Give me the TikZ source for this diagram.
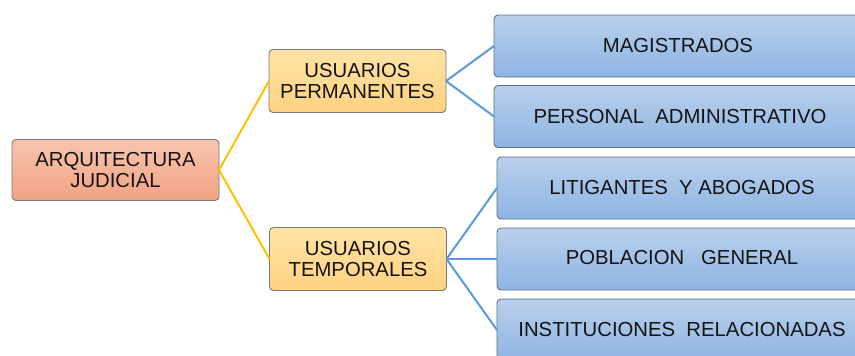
\documentclass[tikz,border=0pt]{standalone}
\usepackage{fontspec}
\setmainfont{Liberation Sans}
\definecolor{rootTop}{HTML}{F8C4AE}
\definecolor{rootBot}{HTML}{F2A283}
\definecolor{yelTop}{HTML}{FFE3A6}
\definecolor{yelBot}{HTML}{FFD27F}
\definecolor{bluTop}{HTML}{B9D0EC}
\definecolor{bluBot}{HTML}{8EB4E3}
\definecolor{lineY}{HTML}{FFC000}
\definecolor{lineB}{HTML}{5B9BD5}
\definecolor{bord}{HTML}{7A7A7A}
\definecolor{bordB}{HTML}{5E6F86}
\tikzset{
  x=1pt, y=-1pt,
  txt/.style={font=\fontsize{20.3}{21}\selectfont, text=black!92, align=center, inner sep=0pt},
  box/.style={rounded corners=4pt, draw=bord, line width=0.9pt, inner sep=0pt, outer sep=0pt, txt},
  rootbox/.style={box, top color=rootTop, bottom color=rootBot, minimum width=207pt, minimum height=61pt},
  midbox/.style={box, top color=yelTop, bottom color=yelBot, minimum width=177pt, minimum height=63pt},
  leafbox/.style={box, draw=bordB, top color=bluTop, bottom color=bluBot, minimum width=380pt, minimum height=62pt},
  ylink/.style={draw=lineY, line width=2pt},
  blink/.style={draw=lineB, line width=2pt}
}
\begin{document}
\begin{tikzpicture}
\useasboundingbox (0,0) rectangle (855,356);
\clip (0,0) rectangle (855,356);
\node[rootbox] (root) at (115.5,170) {ARQUITECTURA\\JUDICIAL};
\node[midbox] (perm) at (357.5,81) {USUARIOS\\PERMANENTES};
\node[midbox] (temp) at (358,259) {USUARIOS\\TEMPORALES};
\node[leafbox, anchor=west] (mag) at (494,46) {};
\node[txt] (magt) at (678,46) {MAGISTRADOS};
\node[leafbox, anchor=west] (pers) at (494,116.5) {};
\node[txt] (perst) at (680,116.5) {PERSONAL\ \ ADMINISTRATIVO};
\node[leafbox, anchor=west] (lit) at (497,188) {};
\node[txt] (litt) at (682,188) {LITIGANTES\ \ Y ABOGADOS};
\node[leafbox, anchor=west] (pob) at (497,259) {};
\node[txt] (pobt) at (682,258) {POBLACION\ \ \ GENERAL};
\node[leafbox, anchor=west] (inst) at (497,330) {};
\node[txt] (instt) at (682,330) {INSTITUCIONES\ \ RELACIONADAS};
\path[ylink] (root.east) -- (perm.west);
\path[ylink] (root.east) -- (temp.west);
\path[blink] (perm.east) -- (mag.west);
\path[blink] (perm.east) -- (pers.west);
\path[blink] (temp.east) -- (lit.west);
\path[blink] (temp.east) -- (pob.west);
\path[blink] (temp.east) -- (inst.west);
\end{tikzpicture}
\end{document}
